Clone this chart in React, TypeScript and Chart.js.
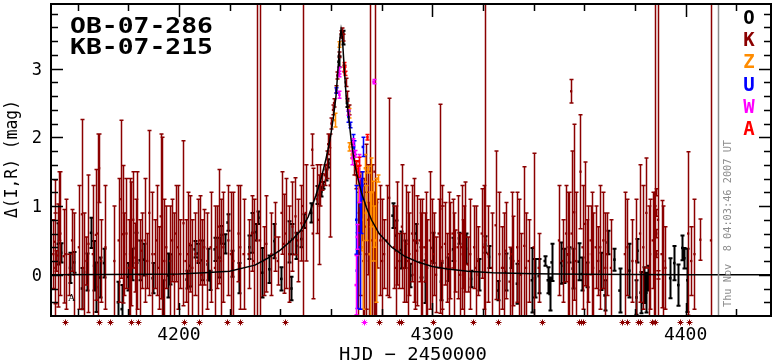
import React, { useEffect, useRef } from 'react';
import { Chart, registerables } from 'chart.js';
Chart.register(...registerables);

const X_MIN = 4149.5;
const X_MAX = 4433.7;
const Y_MIN = -0.6;
const Y_MAX = 3.94;

const xMajorTicks = [4200, 4300, 4400];
const xMinorTicks = [4160, 4180, 4220, 4240, 4260, 4280, 4320, 4340, 4360, 4380, 4420];
const yMajorTicks = [0, 1, 2, 3];
const yMinorTicks = [-0.4, -0.2, 0.2, 0.4, 0.6, 0.8, 1.2, 1.4, 1.6, 1.8, 2.2, 2.4, 2.6, 2.8, 3.2, 3.4, 3.6, 3.8];

const eventNames = ['OB-07-286', 'KB-07-215'];
const legendLetters = ['O', 'K', 'Z', 'U', 'W', 'A'];
const legendColors = ['#000000', '#8b0000', '#ff8c00', '#0000ff', '#ff00ff', '#ff0000'];
const stampText = 'Thu Nov  8 04:03:46 2007 UT';
const stampDay = 4412.7;
const markDay = 4157.6;
const markMag = -0.33;
const asteriskMag = -0.69;

// [HJD-2450000, delta mag, error]
const ogle = [
  [4152.2, 0.45, 0.3], [4153.5, 0.32, 0.14], [4157.0, 0.1, 0.22], [4158.6, 0.18, 0.15], [4161.7, -0.2, 0.3],
  [4163.7, 0.04, 0.27], [4165.3, 0.61, 0.22], [4166.5, 0.13, 0.36], [4167.3, -0.18, 0.36], [4168.8, -0.04, 0.29],
  [4170.4, 0.17, 0.21], [4175.9, -0.4, 0.3], [4177.4, -0.5, 0.35], [4179.8, -0.03, 0.2], [4181.4, 0.15, 0.23],
  [4183.0, 0.39, 0.22], [4184.5, 0.21, 0.29], [4186.1, 0.22, 0.23], [4189.6, -0.05, 0.22], [4193.6, -0.34, 0.26],
  [4195.5, -0.01, 0.32], [4196.3, 0.08, 0.22], [4203.0, -0.07, 0.13], [4204.2, 0.13, 0.3], [4206.2, 0.37, 0.12],
  [4207.4, 0.31, 0.14], [4209.0, 0.21, 0.29], [4211.3, 0.15, 0.23], [4212.1, -0.08, 0.14], [4214.1, 0.37, 0.17],
  [4216.0, 0.25, 0.29], [4216.8, 0.58, 0.13], [4218.0, 0.45, 0.14], [4219.2, 0.76, 0.12], [4221.1, 0.16, 0.19],
  [4223.9, -0.05, 0.22], [4227.8, 0.4, 0.17], [4229.0, 0.61, 0.29], [4230.6, 0.62, 0.12], [4231.4, 0.83, 0.09],
  [4232.9, 0.03, 0.36], [4235.7, 0.08, 0.2], [4237.7, 0.49, 0.25], [4240.4, -0.06, 0.17], [4243.6, 0.48, 0.3],
  [4244.4, -0.2, 0.17], [4244.8, 0.52, 0.22], [4246.3, 0.42, 0.19], [4248.3, 0.52, 0.12], [4249.5, 0.78, 0.1],
  [4252.2, 0.9, 0.14], [4254.6, 1.16, 0.13], [4256.2, 1.21, 0.07], [4257.0, 1.3, 0.05], [4258.0, 1.45, 0.08],
  [4259.0, 1.62, 0.06], [4263.0, 3.1, 0.08], [4264.6, 3.45, 0.1], [4266.3, 2.5, 0.06],
  [4284.3, 0.86, 0.18], [4285.5, 0.57, 0.22], [4287.5, 0.36, 0.27], [4289.4, 0.3, 0.2], [4291.4, -0.01, 0.17],
  [4293.4, 0.6, 0.14], [4295.4, 0.18, 0.22], [4297.3, -0.1, 0.31], [4300.1, 0.39, 0.22], [4303.4, -0.1, 0.27],
  [4306.2, 0.08, 0.17], [4308.2, 0.37, 0.17], [4310.5, 0.53, 0.08], [4313.3, 0.38, 0.22], [4315.3, -0.06, 0.12],
  [4318.4, 0.0, 0.23], [4320.8, 0.44, 0.12], [4322.4, 0.26, 0.16], [4325.9, -0.23, 0.14], [4329.0, 0.04, 0.27],
  [4331.0, 0.24, 0.14], [4333.4, -0.13, 0.29], [4339.3, -0.08, 0.47], [4340.5, -0.05, 0.28], [4342.0, -0.02, 0.25],
  [4344.4, 0.2, 0.07], [4345.6, -0.08, 0.19], [4346.3, -0.28, 0.24], [4347.1, 0.18, 0.27], [4350.7, 0.17, 0.3],
  [4351.9, 0.13, 0.25], [4353.8, 0.29, 0.11], [4355.4, 0.09, 0.29], [4357.8, 0.19, 0.27], [4359.0, 0.01, 0.24],
  [4361.0, 0.0, 0.18], [4366.4, 0.05, 0.27], [4368.0, -0.3, 0.22], [4369.2, 0.47, 0.17], [4371.9, 0.22, 0.16],
  [4373.9, -0.23, 0.32], [4377.8, 0.06, 0.39], [4380.6, -0.33, 0.25], [4381.0, 0.35, 0.17], [4382.2, -0.26, 0.3],
  [4383.7, -0.15, 0.26], [4384.5, -0.26, 0.29], [4385.3, -0.05, 0.18], [4393.9, -0.05, 0.29], [4395.5, 0.17, 0.25],
  [4397.1, -0.15, 0.3], [4398.7, 0.39, 0.18], [4399.5, 0.24, 0.15], [4400.7, -0.08, 0.46],
];

const kmt = [
  [4150.4, 0.3, 0.5], [4150.9, 0.48, 0.9], [4151.2, 0.1, 0.8], [4151.6, 0.2, 0.15], [4152.3, 0.28, 0.75],
  [4152.8, 1.0, 0.5], [4153.2, 0.6, 0.9], [4154.5, 0.27, 0.68], [4155.5, 0.3, 0.8], [4156.5, 0.0, 0.3],
  [4157.8, 0.5, 0.45], [4158.5, 0.0, 0.9], [4160.5, 0.4, 0.9], [4161.7, 0.88, 1.38], [4162.5, 0.1, 0.8],
  [4163.5, 0.2, 0.35], [4164.3, 0.45, 1.0], [4166.0, 0.3, 1.0], [4167.2, 0.58, 0.95], [4168.0, 0.6, 1.45],
  [4168.5, 1.55, 0.5], [4169.3, 0.2, 0.6], [4171.0, 0.4, 0.9], [4174.5, 0.2, 0.8], [4176.2, 0.5, 0.9],
  [4177.0, 1.1, 1.15], [4177.8, 0.59, 1.0], [4178.5, 0.3, 0.6], [4179.3, 0.6, 0.8], [4180.2, 0.1, 0.7],
  [4180.7, 0.3, 1.1], [4181.0, 0.45, 0.9], [4182.0, 0.8, 0.7], [4182.8, 0.25, 0.5], [4183.0, 0.1, 1.0],
  [4183.6, 0.5, 1.0], [4184.5, 0.0, 0.8], [4185.3, 0.35, 0.55], [4186.5, 0.5, 0.9], [4187.5, 0.2, 0.4],
  [4188.3, 0.9, 1.2], [4189.5, 0.3, 0.9], [4190.5, 0.3, 0.5], [4191.2, 0.5, 0.8], [4192.0, 0.1, 0.6],
  [4192.8, 0.85, 1.2], [4193.2, 0.7, 1.3], [4194.2, 0.2, 0.9], [4195.0, 0.4, 0.6], [4196.5, 0.2, 0.8],
  [4197.3, 0.5, 0.6], [4198.0, 0.0, 0.9], [4198.8, 0.6, 0.7], [4199.5, 0.4, 0.9], [4200.5, 0.3, 0.5],
  [4201.8, 0.75, 1.2], [4202.6, 0.2, 0.6], [4203.5, 0.3, 0.9], [4204.2, 0.45, 0.7], [4205.3, 0.1, 0.7],
  [4206.5, 0.3, 0.6], [4207.4, 0.2, 0.9], [4208.2, 0.5, 0.65], [4209.0, 0.0, 0.8], [4210.0, 0.4, 0.55],
  [4211.2, 0.2, 0.7], [4212.5, 0.4, 0.8], [4214.2, 0.1, 0.9], [4215.0, 0.4, 0.6], [4215.8, 0.7, 0.83],
  [4216.6, 0.2, 0.9], [4217.5, 0.4, 0.8], [4219.5, 0.5, 0.8], [4220.5, 0.3, 0.9], [4221.5, 0.2, 1.0],
  [4223.5, 0.6, 0.7], [4224.2, 0.4, 0.9], [4225.5, 0.3, 0.8], [4227.5, 0.3, 0.5], [4228.8, 0.6, 0.55],
  [4229.5, 0.2, 0.9], [4230.8, 0.5, 5], [4232.0, 0.5, 5],
  [4233.5, 0.2, 0.5], [4234.5, 0.45, 0.7], [4236.5, 0.3, 0.6], [4238.0, 0.55, 0.5], [4239.0, 0.2, 0.35],
  [4240.5, 0.9, 0.6], [4241.5, 0.45, 0.72], [4242.2, 0.6, 0.8], [4243.5, 0.3, 0.7], [4244.8, 0.7, 0.65],
  [4246.0, 0.85, 0.56], [4247.0, 0.5, 0.6], [4248.3, 0.75, 0.55], [4248.9, 1.0, 5], [4250.0, 0.9, 0.7],
  [4252.6, 1.82, 0.23], [4252.8, 0.6, 0.95], [4254.4, 1.1, 0.5], [4255.2, 0.8, 0.65], [4255.8, 1.3, 0.3],
  [4256.5, 1.35, 0.12], [4257.5, 1.45, 0.15], [4258.4, 1.6, 0.2], [4258.9, 1.9, 0.15], [4259.3, 1.95, 0.1],
  [4259.5, 1.3, 0.75], [4260.2, 2.2, 0.08], [4260.8, 2.4, 0.07], [4261.2, 2.5, 0.06], [4262.0, 2.7, 0.05],
  [4262.5, 2.9, 0.05], [4263.2, 3.2, 0.04], [4263.8, 3.5, 0.05], [4264.2, 3.55, 0.04], [4264.6, 3.45, 0.05],
  [4265.3, 3.0, 0.05], [4265.8, 2.8, 0.06], [4266.3, 2.6, 0.07], [4267.0, 2.4, 0.07], [4268.5, 1.8, 0.1],
  [4269.2, 1.6, 0.15], [4269.8, 1.45, 0.2],
  [4270.8, 0.3, 0.9], [4271.0, 0.9, 0.6], [4271.6, 0.6, 0.9], [4272.3, 1.0, 0.5], [4272.8, 0.2, 0.85],
  [4273.0, 0.4, 1.0], [4273.8, 0.7, 1.2], [4274.0, 0.3, 0.9], [4274.5, 0.8, 0.8], [4275.0, 0.2, 0.85],
  [4275.6, 1.5, 5], [4276.3, 0.5, 1.1], [4276.8, 0.3, 0.9], [4277.2, 1.5, 5], [4277.8, 0.2, 0.85],
  [4278.2, 0.6, 0.5],
  [4279.5, 0.5, 0.8], [4280.2, 0.2, 0.9], [4281.0, 0.3, 0.5], [4282.0, 0.5, 0.8], [4283.0, 1.12, 1.45],
  [4284.8, 0.4, 0.6], [4285.5, 0.1, 0.9], [4286.0, 0.6, 0.75], [4287.0, 0.2, 0.4], [4288.0, 0.7, 0.9],
  [4289.0, 0.1, 0.5], [4289.8, 0.45, 0.85], [4290.5, 0.2, 1.0], [4291.0, 0.3, 0.6], [4292.0, 0.6, 0.7],
  [4292.8, 0.5, 0.9], [4293.0, 0.0, 0.5], [4294.0, 0.35, 0.8], [4295.0, 0.5, 0.6], [4295.6, 0.1, 0.8],
  [4296.0, 0.2, 0.9], [4297.0, 0.4, 0.5], [4297.5, 0.3, 0.9], [4298.0, 0.1, 0.7], [4299.0, 0.5, 1.0],
  [4299.8, 0.2, 0.9], [4300.5, 0.3, 0.6], [4301.5, 0.0, 0.55], [4302.5, 0.6, 0.5], [4303.2, 0.96, 1.52],
  [4303.8, 0.4, 0.9], [4304.0, 0.2, 0.8], [4305.0, 0.45, 0.6], [4306.0, 0.1, 0.5], [4306.6, 0.3, 0.9],
  [4307.0, 0.35, 0.7], [4308.0, 0.6, 0.5], [4308.6, 0.1, 0.8], [4309.0, 0.2, 0.45], [4310.0, 0.4, 0.75],
  [4311.0, 0.0, 0.6], [4311.6, 0.4, 0.9], [4312.0, 0.3, 0.5], [4312.7, 0.2, 0.8], [4313.0, 0.55, 0.8],
  [4314.0, 0.15, 0.4], [4315.0, 0.3, 0.8], [4316.5, 0.4, 0.6], [4317.2, 0.1, 0.9], [4318.0, 0.2, 0.5],
  [4319.5, 0.6, 0.65], [4320.5, 0.4, 0.9], [4321.0, 0.5, 5], [4322.0, 0.3, 0.7], [4323.5, 0.1, 0.8],
  [4325.0, 0.72, 1.08], [4326.5, 0.3, 0.9], [4327.5, 0.1, 0.6], [4328.3, 0.1, 0.8], [4329.0, 0.35, 0.7],
  [4330.5, -0.1, 0.5], [4331.5, 0.3, 0.9], [4332.0, 0.2, 0.65], [4333.5, 0.4, 0.8], [4334.2, 0.2, 0.9],
  [4335.0, 0.0, 0.6], [4336.3, 0.42, 1.15], [4337.0, 0.1, 0.8], [4338.0, 0.2, 0.6], [4340.0, 0.4, 1.37],
  [4342.0, 0.1, 0.5], [4350.0, 0.5, 0.8], [4351.5, 0.2, 0.6], [4352.8, 0.6, 0.7], [4353.5, 0.3, 0.9],
  [4354.0, 0.3, 0.9], [4354.8, 2.67, 0.17], [4355.0, 0.6, 1.2], [4356.0, 0.91, 1.28], [4356.8, 0.2, 1.0],
  [4358.5, 1.5, 0.83], [4359.3, 0.4, 0.9], [4360.3, 0.74, 0.9], [4361.0, 0.0, 0.8], [4361.5, 0.3, 0.7],
  [4362.5, 0.5, 0.5], [4363.0, 0.3, 0.9], [4363.5, 0.1, 0.8], [4364.5, 0.4, 0.6], [4365.5, 0.2, 0.5],
  [4366.3, 0.4, 0.9], [4367.5, 0.5, 0.7], [4368.3, 0.1, 0.8], [4369.0, 0.3, 0.6], [4370.5, 0.1, 0.7],
  [4376.0, 0.3, 0.9], [4377.0, 0.4, 0.7], [4379.0, 0.2, 0.6], [4380.5, 0.2, 0.9], [4382.0, 0.6, 1.0],
  [4383.3, 0.4, 0.9], [4384.5, 0.9, 0.8], [4385.5, 0.1, 0.9], [4386.0, 0.3, 0.8], [4387.0, 0.5, 0.7],
  [4387.6, 0.3, 0.9], [4388.1, 1.0, 5], [4388.2, 1.2, 0.05], [4388.3, 0.9, 0.05], [4388.4, 0.6, 0.06],
  [4388.5, 0.3, 0.05], [4389.1, 0.8, 5], [4389.2, 0.0, 0.06], [4390.5, 0.3, 0.78], [4391.2, 0.2, 0.8],
  [4392.0, 0.1, 0.6], [4401.0, 0.6, 1.19], [4402.2, 0.2, 0.5], [4403.5, 0.3, 0.8], [4405.8, 0.51, 0.3],
  [4410.0, 0.5, 5],
];

const orange = [
  [4261.5, 2.25, 0.1], [4263.3, 3.35, 0.04], [4267.0, 2.35, 0.07], [4267.3, 1.86, 0.06], [4268.2, 1.75, 0.06],
  [4270.5, 1.3, 0.25], [4271.1, 1.53, 0.06], [4272.0, 0.8, 0.45], [4272.5, 0.4, 0.9], [4273.4, 1.55, 0.2],
  [4273.8, 0.9, 0.4], [4274.6, 1.53, 0.05], [4275.3, 0.3, 0.9], [4276.0, 1.2, 0.5], [4276.6, 0.78, 0.58],
  [4277.0, 0.7, 0.3], [4277.6, 0.5, 0.9], [4278.5, 1.4, 0.05],
];

const blue = [
  [4262.1, 2.68, 0.04], [4266.9, 2.3, 0.08], [4267.5, 2.18, 0.04], [4268.6, 1.95, 0.09], [4269.0, 1.85, 0.1],
  [4270.0, 0.8, 0.5], [4270.2, 0.06, 0.55], [4271.4, 0.4, 0.9], [4271.7, 1.0, 0.4], [4272.4, 1.3, 0.2],
  [4272.6, 1.86, 0.14],
];

const magenta = [
  [4263.0, 2.97, 0.05], [4263.1, 2.92, 0.04], [4263.3, 2.62, 0.05], [4266.9, 2.36, 0.04], [4268.3, 1.7, 0.1],
  [4268.8, 1.93, 0.05], [4269.3, 1.76, 0.05], [4269.8, -0.15, 0.43], [4270.2, 0.55, 0.18], [4271.1, 1.4, 0.35],
  [4276.8, 2.81, 0.03],
];

const red = [
  [4265.2, 3.06, 0.03], [4265.3, 2.99, 0.03], [4265.4, 2.93, 0.03], [4269.8, 1.6, 0.06], [4270.5, 1.5, 0.08],
  [4271.0, 1.65, 0.06], [4274.4, 2.0, 0.04],
];

const model = [
  [4149.5, 0.0], [4170, 0.005], [4190, 0.008], [4200, 0.01], [4210, 0.03], [4220, 0.05], [4230, 0.14],
  [4235, 0.24], [4240, 0.36], [4245, 0.52], [4248, 0.64], [4251, 0.84], [4254, 1.15], [4256, 1.38],
  [4258, 1.68], [4259, 1.85], [4260, 2.05], [4261, 2.3], [4262, 2.6], [4263, 3.1], [4263.5, 3.42],
  [4264, 3.57], [4264.5, 3.45], [4265, 3.15], [4266, 2.6], [4267, 2.3], [4268, 1.95], [4269, 1.7],
  [4270, 1.5], [4272, 1.2], [4274, 0.98], [4276, 0.8], [4279, 0.6], [4284, 0.4], [4289, 0.27],
  [4294, 0.19], [4300, 0.12], [4306, 0.085], [4314, 0.05], [4324, 0.029], [4340, 0.013], [4360, 0.006],
  [4380, 0.004], [4400, 0.002], [4433.7, 0.001],
];

const kmtAsteriskDays = [
  4154.9, 4168.3, 4172.9, 4181.0, 4184.0, 4202.1, 4208.0, 4219.0, 4224.0, 4241.9, 4278.9, 4287.0, 4287.8,
  4300.1, 4315.9, 4326.0, 4343.2, 4357.9, 4358.7, 4359.6, 4375.0, 4377.0, 4381.3, 4381.8, 4386.6, 4388.1,
  4397.8, 4401.3,
];
const wiseAsteriskDays = [4273.2];

const FONT = '"DejaVu Sans Mono", monospace';

function toPts(arr: number[][]) {
  return arr.map((p) => ({ x: p[0], y: p[1], e: p[2] }));
}

function fitText(ctx: CanvasRenderingContext2D, text: string, x: number, y: number, width: number, font: string, color: string, rot = 0) {
  ctx.save();
  ctx.font = font;
  ctx.fillStyle = color;
  ctx.textAlign = 'left';
  ctx.textBaseline = 'alphabetic';
  const w = ctx.measureText(text).width;
  ctx.translate(x, y);
  if (rot) ctx.rotate(rot);
  ctx.scale(width / w, 1);
  ctx.fillText(text, 0, 0);
  ctx.restore();
}

const errorBarPlugin = {
  id: 'errorBars',
  beforeDatasetDraw(chart: any, args: any) {
    const ds = chart.data.datasets[args.index];
    if (!ds.errorBars) return;
    const { ctx, chartArea, scales } = chart;
    ctx.save();
    ctx.beginPath();
    ctx.rect(chartArea.left, chartArea.top, chartArea.right - chartArea.left, chartArea.bottom - chartArea.top);
    ctx.clip();
    ctx.strokeStyle = ds.borderColor;
    ctx.lineWidth = ds.errorWidth;
    ctx.beginPath();
    for (const p of ds.data) {
      const x = Math.round(scales.x.getPixelForValue(p.x)) + 0.5;
      const yt = scales.y.getPixelForValue(p.y + p.e);
      const yb = scales.y.getPixelForValue(p.y - p.e);
      ctx.moveTo(x, yt);
      ctx.lineTo(x, yb);
      ctx.moveTo(x - 2, yt);
      ctx.lineTo(x + 2, yt);
      ctx.moveTo(x - 2, yb);
      ctx.lineTo(x + 2, yb);
    }
    ctx.stroke();
    ctx.restore();
  },
};

const decorPlugin = {
  id: 'decor',
  afterDatasetsDraw(chart: any) {
    const { ctx, chartArea: a, scales } = chart;
    const xs = scales.x;
    const ys = scales.y;
    ctx.save();
    // date stamp line
    const sx = Math.round(xs.getPixelForValue(stampDay)) + 0.5;
    ctx.strokeStyle = '#8c8c8c';
    ctx.lineWidth = 1.5;
    ctx.beginPath();
    ctx.moveTo(sx, a.top);
    ctx.lineTo(sx, a.bottom);
    ctx.stroke();
    fitText(ctx, stampText, sx + 12, 307, 167, '11px ' + FONT, '#8c8c8c', -Math.PI / 2);

    // frame
    ctx.strokeStyle = '#000';
    ctx.lineWidth = 2;
    ctx.strokeRect(a.left, a.top, a.right - a.left, a.bottom - a.top);

    // ticks (inward)
    ctx.lineWidth = 1.5;
    ctx.beginPath();
    const xt = (v: number, len: number) => {
      const x = Math.round(xs.getPixelForValue(v)) + 0.5;
      ctx.moveTo(x, a.top);
      ctx.lineTo(x, a.top + len);
      ctx.moveTo(x, a.bottom);
      ctx.lineTo(x, a.bottom - len);
    };
    const yt = (v: number, len: number) => {
      const y = Math.round(ys.getPixelForValue(v)) + 0.5;
      ctx.moveTo(a.left, y);
      ctx.lineTo(a.left + len, y);
      ctx.moveTo(a.right, y);
      ctx.lineTo(a.right - len, y);
    };
    xMajorTicks.forEach((v) => xt(v, 13));
    xMinorTicks.forEach((v) => xt(v, 7));
    yMajorTicks.forEach((v) => yt(v, 12));
    yMinorTicks.forEach((v) => yt(v, 7));
    ctx.stroke();

    // tick labels
    ctx.fillStyle = '#000';
    ctx.font = '18px ' + FONT;
    ctx.textAlign = 'center';
    ctx.textBaseline = 'alphabetic';
    xMajorTicks.forEach((v) => ctx.fillText(String(v), xs.getPixelForValue(v), 340));
    ctx.font = '17px ' + FONT;
    ctx.textAlign = 'right';
    yMajorTicks.forEach((v) => ctx.fillText(String(v), 42, ys.getPixelForValue(v) + 6));

    // axis titles
    fitText(ctx, 'HJD \u2212 2450000', 339, 360, 148, '18px ' + FONT, '#000');
    fitText(ctx, '\u0394(I,R) (mag)', 17, 218, 118, '18px ' + FONT, '#000', -Math.PI / 2);

    // event names
    fitText(ctx, eventNames[0], 70, 33, 143, 'bold 21px ' + FONT, '#000');
    fitText(ctx, eventNames[1], 70, 54, 143, 'bold 21px ' + FONT, '#000');

    // observatory legend
    ctx.font = 'bold 19px ' + FONT;
    ctx.textAlign = 'center';
    legendLetters.forEach((l, i) => {
      ctx.fillStyle = legendColors[i];
      ctx.fillText(l, 749, 24 + i * 22.2);
    });

    // small mark
    ctx.fillStyle = '#000';
    ctx.font = '10px "Liberation Serif", serif';
    ctx.textAlign = 'center';
    ctx.fillText('A', xs.getPixelForValue(markDay), ys.getPixelForValue(markMag) + 4);

    // asterisks below axis (points off the bottom)
    const star = (d: number, color: string) => {
      const x = Math.round(xs.getPixelForValue(d)) + 0.5;
      const y = Math.round(ys.getPixelForValue(asteriskMag)) + 0.5;
      ctx.strokeStyle = color;
      ctx.lineWidth = 1;
      ctx.beginPath();
      ctx.moveTo(x - 3, y);
      ctx.lineTo(x + 3, y);
      ctx.moveTo(x, y - 3);
      ctx.lineTo(x, y + 3);
      ctx.moveTo(x - 2, y - 2);
      ctx.lineTo(x + 2, y + 2);
      ctx.moveTo(x - 2, y + 2);
      ctx.lineTo(x + 2, y - 2);
      ctx.stroke();
    };
    kmtAsteriskDays.forEach((d) => star(d, legendColors[1]));
    wiseAsteriskDays.forEach((d) => star(d, legendColors[4]));
    ctx.restore();
  },
};

function series(data: number[][], color: string, width: number, radius: number) {
  return {
    data: toPts(data),
    borderColor: color,
    backgroundColor: color,
    pointStyle: 'rect',
    pointRadius: radius,
    pointBorderWidth: 0,
    showLine: false,
    errorBars: true,
    errorWidth: width,
  };
}

export default function App() {
  const ref = useRef<HTMLCanvasElement>(null);
  useEffect(() => {
    if (!ref.current) return;
    const chart = new Chart(ref.current, {
      type: 'scatter',
      data: {
        datasets: [
          {
            data: model.map((p) => ({ x: p[0], y: p[1] })),
            showLine: true,
            borderColor: '#000',
            borderWidth: 1.5,
            pointRadius: 0,
            tension: 0,
          } as any,
          series(red, legendColors[5], 1.5, 1.8),
          series(magenta, legendColors[4], 1.5, 1.8),
          series(blue, legendColors[3], 1.5, 1.8),
          series(orange, legendColors[2], 1.5, 1.8),
          series(kmt, legendColors[1], 1.5, 1.6),
          series(ogle, legendColors[0], 2, 1.8),
        ],
      },
      options: {
        animation: false,
        responsive: false,
        maintainAspectRatio: false,
        events: [],
        layout: { padding: { left: 51, right: 2, top: 1, bottom: 46 } },
        plugins: { legend: { display: false }, tooltip: { enabled: false } },
        scales: {
          x: { type: 'linear', min: X_MIN, max: X_MAX, display: false },
          y: { type: 'linear', min: Y_MIN, max: Y_MAX, display: false },
        },
      },
      plugins: [errorBarPlugin, decorPlugin],
    } as any);
    return () => chart.destroy();
  }, []);
  return (
    <div style={{ position: 'absolute', left: 0, top: 0, width: 775, height: 362, background: '#fff' }}>
      <canvas ref={ref} width={775} height={362} style={{ display: 'block' }} />
    </div>
  );
}
